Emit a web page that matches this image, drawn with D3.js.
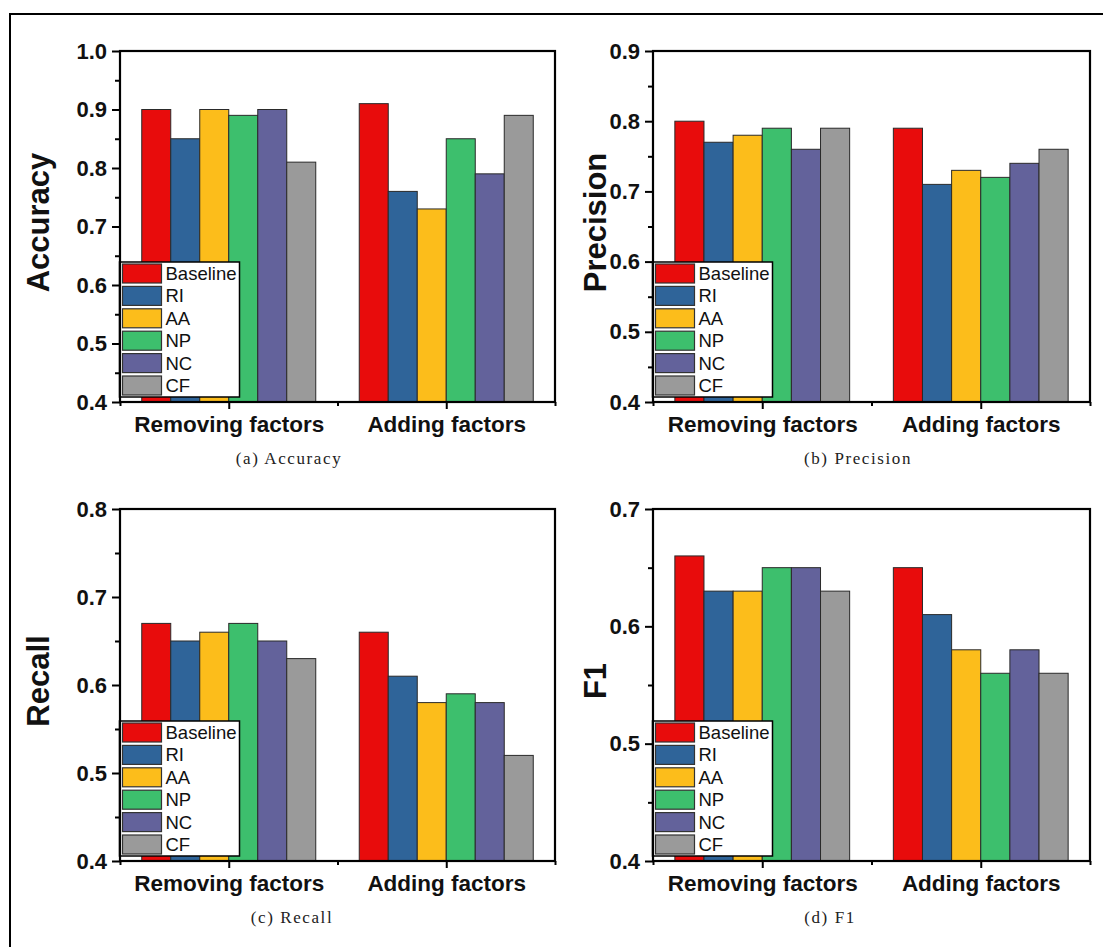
<!DOCTYPE html>
<html>
<head>
<meta charset="utf-8">
<script src="https://cdn.jsdelivr.net/npm/d3@7"></script>
<style>
  body { margin: 0; background: #fff; }
  svg { display: block; }
  .tick text { font-family: "Liberation Sans", Arial, sans-serif; font-weight: bold; }
</style>
</head>
<body>
<svg id="chart" width="1103" height="947"></svg>
<script>
// categories and series
var groups = ["Removing factors", "Adding factors"];
var methods = ["Baseline", "RI", "AA", "NP", "NC", "CF"];
var colors = ["#e80c0c", "#2f6499", "#fcbd1b", "#3dbf6d", "#63629b", "#9a9a9a"];

var accuracyRemoving = [0.90, 0.85, 0.90, 0.89, 0.90, 0.81];
var accuracyAdding   = [0.91, 0.76, 0.73, 0.85, 0.79, 0.89];
var precisionRemoving = [0.80, 0.77, 0.78, 0.79, 0.76, 0.79];
var precisionAdding   = [0.79, 0.71, 0.73, 0.72, 0.74, 0.76];
var recallRemoving = [0.67, 0.65, 0.66, 0.67, 0.65, 0.63];
var recallAdding   = [0.66, 0.61, 0.58, 0.59, 0.58, 0.52];
var f1Removing = [0.66, 0.63, 0.63, 0.65, 0.65, 0.63];
var f1Adding   = [0.65, 0.61, 0.58, 0.56, 0.58, 0.56];

// y tick labels per panel
var accuracyTicks  = [0.4, 0.5, 0.6, 0.7, 0.8, 0.9, 1.0];
var precisionTicks = [0.4, 0.5, 0.6, 0.7, 0.8, 0.9];
var recallTicks    = [0.4, 0.5, 0.6, 0.7, 0.8];
var f1Ticks        = [0.4, 0.5, 0.6, 0.7];

var panels = [
  { label: "Accuracy",  caption: "(a)  Accuracy",  ticks: accuracyTicks,  values: [accuracyRemoving, accuracyAdding],
    x0: 120, x1: 555, y0: 51, y1: 402, labelX: 38, capX: 289, capY: 464 },
  { label: "Precision", caption: "(b)  Precision", ticks: precisionTicks, values: [precisionRemoving, precisionAdding],
    x0: 653, x1: 1090, y0: 51, y1: 402, labelX: 595, capX: 858, capY: 464 },
  { label: "Recall",    caption: "(c)  Recall",    ticks: recallTicks,    values: [recallRemoving, recallAdding],
    x0: 120, x1: 555, y0: 509, y1: 861, labelX: 38, capX: 292, capY: 923 },
  { label: "F1",        caption: "(d)  F1",        ticks: f1Ticks,        values: [f1Removing, f1Adding],
    x0: 653, x1: 1090, y0: 509, y1: 861, labelX: 595, capX: 830, capY: 923 }
];

var svg = d3.select("#chart");

// outer frame (top and left edges only)
svg.append("line").attr("x1", 9).attr("y1", 14).attr("x2", 1103).attr("y2", 14)
   .attr("stroke", "#000").attr("stroke-width", 2);
svg.append("line").attr("x1", 10).attr("y1", 14).attr("x2", 10).attr("y2", 947)
   .attr("stroke", "#000").attr("stroke-width", 2);

panels.forEach(function (p) {
  var g = svg.append("g");
  var lo = d3.min(p.ticks), hi = d3.max(p.ticks);

  var y = d3.scaleLinear().domain([lo, hi]).range([p.y1, p.y0]);
  var xg = d3.scaleBand().domain(groups).range([p.x0, p.x1]).paddingInner(0.2).paddingOuter(0.1);
  var xm = d3.scaleBand().domain(methods).range([0, xg.bandwidth()]);

  // bars
  groups.forEach(function (grp, gi) {
    g.append("g")
      .selectAll("rect")
      .data(p.values[gi])
      .enter().append("rect")
      .attr("x", function (d, i) { return xg(grp) + xm(methods[i]); })
      .attr("y", function (d) { return y(d); })
      .attr("width", xm.bandwidth())
      .attr("height", function (d) { return y(lo) - y(d); })
      .attr("fill", function (d, i) { return colors[i]; })
      .attr("stroke", "#2a2a2a")
      .attr("stroke-width", 1);
  });

  // legend
  var lw = 120, lh = 135;
  var lx = p.x0 - 0.5, ly = p.y1 - 5 - lh;
  var leg = g.append("g").attr("transform", "translate(" + lx + "," + ly + ")");
  leg.append("rect").attr("width", lw).attr("height", lh)
     .attr("fill", "#fff").attr("stroke", "#000").attr("stroke-width", 1.5);
  var items = leg.selectAll("g.item").data(methods).enter().append("g")
     .attr("class", "item")
     .attr("transform", function (d, i) { return "translate(0," + (11.5 + i * 22.4) + ")"; });
  items.append("rect").attr("x", 3).attr("y", -9.5).attr("width", 39).attr("height", 19)
     .attr("fill", function (d, i) { return colors[i]; })
     .attr("stroke", "#333").attr("stroke-width", 1.2);
  items.append("text").attr("x", 46).attr("y", 6.5)
     .attr("font-family", "Liberation Sans, Arial, sans-serif").attr("font-size", 18.5)
     .attr("fill", "#111").text(function (d) { return d; });

  // y axis: major + minor ticks
  var minor = d3.range(lo * 20 + 1, hi * 20, 2).map(function (v) { return v / 20; });
  g.append("g").attr("transform", "translate(" + p.x0 + ",0)")
    .call(d3.axisLeft(y).tickValues(minor).tickSize(5).tickFormat(""))
    .call(function (a) { a.select(".domain").remove(); a.selectAll("line").attr("stroke-width", 2); });
  g.append("g").attr("transform", "translate(" + p.x0 + ",0)")
    .call(d3.axisLeft(y).tickValues(p.ticks).tickSize(8).tickPadding(5).tickFormat(d3.format(".1f")))
    .call(function (a) {
      a.select(".domain").remove();
      a.selectAll("line").attr("stroke-width", 2);
      a.selectAll("text").attr("font-size", 22).attr("fill", "#111");
    });

  // x axis: major ticks at group centres, minor at boundaries
  var xc = d3.scaleLinear().domain([0, 1]).range([p.x0, p.x1]);
  g.append("g").attr("transform", "translate(0," + p.y1 + ")")
    .call(d3.axisBottom(xc).tickValues([0, 0.5, 1]).tickSize(4).tickFormat(""))
    .call(function (a) { a.select(".domain").remove(); a.selectAll("line").attr("stroke-width", 2); });
  g.append("g").attr("transform", "translate(0," + p.y1 + ")")
    .call(d3.axisBottom(xc).tickValues([0.25, 0.75]).tickSize(7).tickFormat(function (d, i) { return groups[i]; }).tickPadding(7))
    .call(function (a) {
      a.select(".domain").remove();
      a.selectAll("line").attr("stroke-width", 2);
      a.selectAll("text").attr("font-size", 22.5).attr("fill", "#111");
    });

  // frame
  g.append("rect").attr("x", p.x0).attr("y", p.y0)
    .attr("width", p.x1 - p.x0).attr("height", p.y1 - p.y0)
    .attr("fill", "none").attr("stroke", "#000").attr("stroke-width", 2.2);

  // y label
  g.append("text")
    .attr("transform", "translate(" + (p.labelX + 11) + "," + ((p.y0 + p.y1) / 2 - 4) + ") rotate(-90)")
    .attr("text-anchor", "middle")
    .attr("font-family", "Liberation Sans, Arial, sans-serif")
    .attr("font-weight", "bold").attr("font-size", 31).attr("fill", "#111")
    .text(p.label);

  // caption
  g.append("text").attr("x", p.capX).attr("y", p.capY)
    .attr("text-anchor", "middle")
    .attr("font-family", "Liberation Serif, Times New Roman, serif")
    .attr("font-size", 17).attr("letter-spacing", 1.6).attr("fill", "#222")
    .text(p.caption);
});
</script>
</body>
</html>
